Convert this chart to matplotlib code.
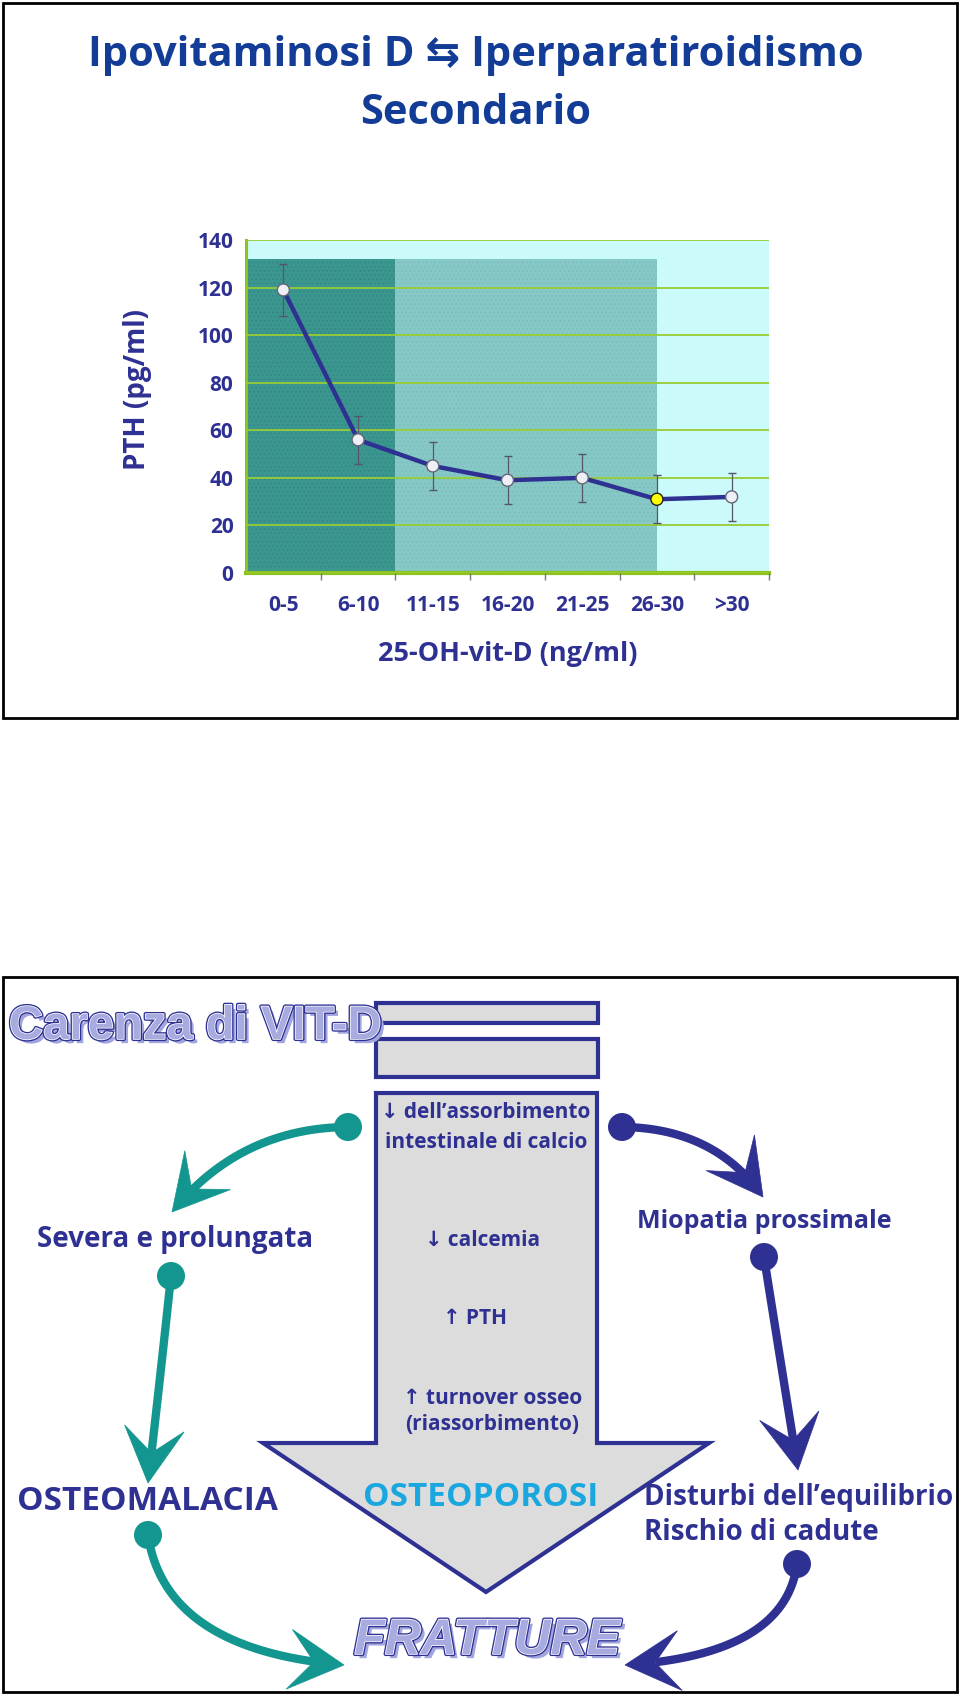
import numpy as np
import matplotlib
matplotlib.use('Agg')
import matplotlib.pyplot as plt
import matplotlib.patches as mpatches
import matplotlib.patheffects as pe

# chart data
categories = ['0-5', '6-10', '11-15', '16-20', '21-25', '26-30', '>30']
pth = [119, 56, 45, 39, 40, 31, 32]
pth_err = [11, 10, 10, 10, 10, 10, 10]
highlight = '26-30'
yticks = [0, 20, 40, 60, 80, 100, 120, 140]
# shaded ranges on the category axis (start, end, top value)
zone_dark = (0, 2, 132)
zone_mid = (2, 5.5, 132)

NAVY = '#2e3192'
TEAL = '#13968f'
TITLE = '#123c96'
GREEN = '#99cc33'
FONT = ['Open Sans', 'DejaVu Sans']
WORDART = ['Liberation Sans', 'DejaVu Sans']

plt.rcParams['font.family'] = FONT
plt.rcParams['hatch.linewidth'] = 0.5

fig = plt.figure(figsize=(9.6, 16.95), dpi=100)
bg = fig.add_axes([0, 0, 1, 1])
bg.set_xlim(0, 960)
bg.set_ylim(1695, 0)
bg.axis('off')

# slide frames
for y0, y1 in [(3, 718), (977, 1692)]:
    bg.add_patch(mpatches.Rectangle((3, y0), 954, y1 - y0, fill=False, ec='black', lw=2))

bg.text(476, 56, 'Ipovitaminosi D \u21c6 Iperparatiroidismo', ha='center', va='center',
        fontsize=30, weight='bold', color=TITLE, family=FONT)
bg.text(476, 113, 'Secondario', ha='center', va='center', fontsize=30, weight='bold', color=TITLE)

# ---- chart
ax = fig.add_axes([246 / 960, 1 - 573 / 1695, 523 / 960, 333 / 1695])
ax.set_zorder(3)
x = np.arange(len(categories)) + 0.5
ax.set_xlim(0, len(categories))
ax.set_ylim(0, 140)
ax.set_facecolor('#cbfafa')
ax.fill_between([zone_dark[0], zone_dark[1]], 0, zone_dark[2], facecolor='#3b968f',
                edgecolor='#318580', hatch='....', lw=0, zorder=1)
ax.fill_between([zone_mid[0], zone_mid[1]], 0, zone_mid[2], facecolor='#86c8c5',
                edgecolor='#7abbb8', hatch='....', lw=0, zorder=1)
ax.set_yticks(yticks)
ax.grid(axis='y', color=GREEN, lw=1.3, zorder=2)
ax.set_axisbelow(False)
ax.errorbar(x, pth, yerr=pth_err, fmt='none', ecolor='#55566a', elinewidth=0.9, capsize=3, zorder=3)
ax.plot(x, pth, color=NAVY, lw=3.2, zorder=4)
cols = ['#ffff00' if c == highlight else '#eeeef6' for c in categories]
eds = ['#222222' if c == highlight else '#666677' for c in categories]
ax.scatter(x, pth, s=75, c=cols, edgecolors=eds, linewidths=1, zorder=5)

for s in ['top', 'right']:
    ax.spines[s].set_visible(False)
ax.spines['left'].set_color('#8dc21f')
ax.spines['left'].set_linewidth(2.2)
ax.spines['bottom'].set_color('#8dc21f')
ax.spines['bottom'].set_linewidth(3)
ax.set_xticks(x)
ax.set_xticklabels(categories)
ax.set_xticks(np.arange(1, len(categories) + 1), minor=True)
ax.tick_params(axis='x', which='major', length=0, pad=16)
ax.tick_params(axis='x', which='minor', length=5, color='#777777', width=1)
ax.tick_params(axis='y', length=0, pad=9)
for lab in ax.get_xticklabels() + ax.get_yticklabels():
    lab.set_fontsize(15)
    lab.set_fontweight('bold')
    lab.set_color(NAVY)
ax.set_xlabel('25-OH-vit-D (ng/ml)', fontsize=19.5, weight='bold', color=NAVY, va='center')
ax.xaxis.set_label_coords(0.5, -(654 - 573) / 333)
ax.set_ylabel('PTH (pg/ml)', fontsize=20, weight='bold', color=NAVY, va='center')
ax.yaxis.set_label_coords((138 - 246) / 523, (573 - 390) / 333)

# ---- bottom slide: big arrow
arrow_pts = [(376, 1093), (597, 1093), (597, 1443), (709, 1443), (486, 1592),
             (263, 1443), (376, 1443)]
bg.add_patch(mpatches.Polygon(arrow_pts, closed=True, fc='#dcdcdc', ec=NAVY, lw=3, joinstyle='miter'))
for y0, y1 in [(1003, 1023), (1039, 1077)]:
    bg.add_patch(mpatches.Rectangle((376, y0), 222, y1 - y0, fc='#dcdcdc', ec=NAVY, lw=3))

steps = [('\u2193 dell\u2019assorbimento', 486, 1112), ('intestinale di calcio', 486, 1143),
         ('\u2193 calcemia', 483, 1240), ('\u2191 PTH', 475, 1318),
         ('\u2191 turnover osseo', 493, 1398), ('(riassorbimento)', 492, 1424)]
for txt, tx, ty in steps:
    bg.text(tx, ty, txt, ha='center', va='center', fontsize=15, weight='bold', color=NAVY, family=FONT)

bg.text(481, 1498, 'OSTEOPOROSI', ha='center', va='center', fontsize=24, weight='bold', color='#1aa7df')

fx_title = [pe.SimplePatchShadow(offset=(3, -3), shadow_rgbFace='#a2a6de', alpha=1.0),
            pe.Stroke(linewidth=3.0, foreground=NAVY),
            pe.Stroke(linewidth=1.1, foreground='white'), pe.Normal()]
bg.text(9, 1027, 'Carenza di VIT-D', ha='left', va='center', fontsize=34, weight='bold',
        color='#a8abe0', family=WORDART, path_effects=fx_title, zorder=5)
bg.text(487, 1641, 'FRATTURE', ha='center', va='center', fontsize=36, weight='bold',
        style='italic', color='#a8abe0', family=WORDART, path_effects=fx_title, zorder=5)


def curved_arrow(p0, pc, p1, color, head_len=55, head_w=30):
    p0, pc, p1 = map(np.asarray, (p0, pc, p1))
    t = np.linspace(0, 1, 80)[:, None]
    pts = (1 - t) ** 2 * p0 + 2 * (1 - t) * t * pc + t ** 2 * p1
    d = p1 - pts[-6]
    d = d / np.hypot(*d)
    n = np.array([-d[1], d[0]])
    keep = np.hypot(*(pts - p1).T) > head_len * 0.5
    bg.plot(pts[keep, 0], pts[keep, 1], color=color, lw=6, solid_capstyle='butt', zorder=4)
    head = [p1, p1 - head_len * d + head_w * n, p1 - 0.55 * head_len * d,
            p1 - head_len * d - head_w * n]
    bg.add_patch(mpatches.Polygon(head, closed=True, fc=color, ec=color, lw=0.5, zorder=4))
    bg.add_patch(mpatches.Circle(p0, 14, fc=color, ec='none', zorder=4))


curved_arrow((348, 1127), (240, 1128), (172, 1212), TEAL)
curved_arrow((171, 1276), (160, 1380), (148, 1483), TEAL)
curved_arrow((148, 1535), (165, 1650), (344, 1665), TEAL)
curved_arrow((622, 1127), (715, 1128), (763, 1197), NAVY)
curved_arrow((764, 1257), (781, 1364), (798, 1470), NAVY)
curved_arrow((797, 1564), (785, 1655), (625, 1665), NAVY)

labels = [('Severa e prolungata', 175, 1239, 'center', 20),
          ('OSTEOMALACIA', 147, 1502, 'center', 24),
          ('Miopatia prossimale', 764, 1222, 'center', 18),
          ('Disturbi dell\u2019equilibrio', 644, 1497, 'left', 20),
          ('Rischio di cadute', 644, 1533, 'left', 20)]
for txt, tx, ty, ha, fs in labels:
    bg.text(tx, ty, txt, ha=ha, va='center', fontsize=fs, weight='bold', color=NAVY, zorder=6)

fig.savefig('out.png', dpi=100)
